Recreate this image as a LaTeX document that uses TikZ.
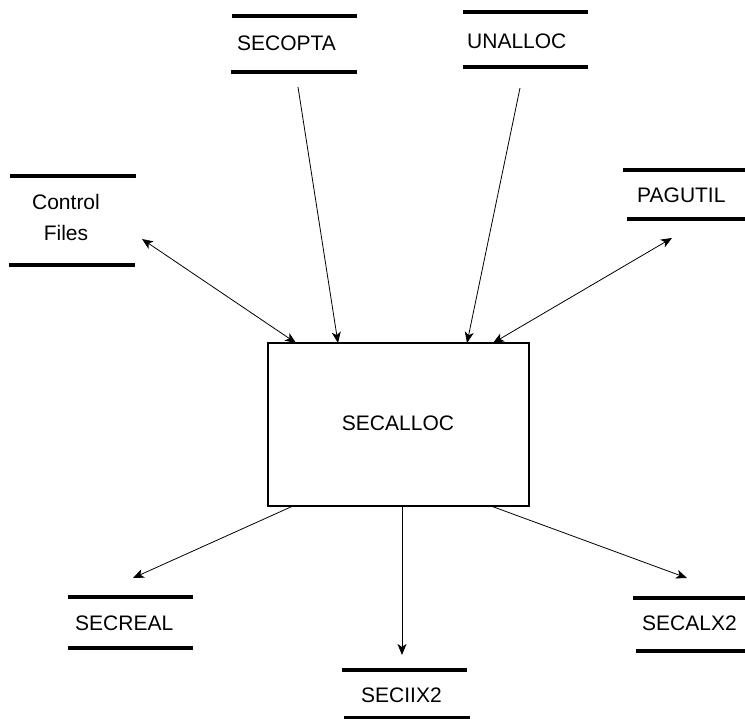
\documentclass[tikz,border=0pt]{standalone}
\usepackage{fontspec}
\setmainfont{Liberation Sans}
\usetikzlibrary{arrows.meta}
\begin{document}
\begin{tikzpicture}[x=1pt,y=-1pt,
  every node/.style={inner sep=0pt,font=\fontsize{21}{31}\selectfont},
  storeline/.style={line width=4pt},
  label/.style={anchor=west},
  process/.style={draw,line width=1.1pt},
  flow/.style={line width=0.8pt,-{Stealth[length=11pt,width=9pt,inset=3pt]}},
  dflow/.style={line width=0.8pt,{Stealth[length=11pt,width=9pt,inset=3pt]}-{Stealth[length=11pt,width=9pt,inset=3pt]}}]
\useasboundingbox (0,0) rectangle (745,719);

% central process
\draw[process] (268,343) rectangle (529,506);
\node (alloc) at (398,423) {SECALLOC};

% data stores: a label between two heavy rules
\node[label] (secopta) at (237,43) {SECOPTA};
\draw[storeline] (232,16) -- (357,16) (231,72) -- (357,72);

\node[label] (unalloc) at (467,41) {UNALLOC};
\draw[storeline] (463,12) -- (588,12) (463,67) -- (588,67);

\node[align=center] (ctrl) at (66,217) {Control\\Files};
\draw[storeline] (10,176) -- (136,176) (9,265) -- (135,265);

\node[label] (pagutil) at (637,195) {PAGUTIL};
\draw[storeline] (623,170) -- (745,170) (627,219) -- (745,219);

\node[label] (secreal) at (75,623) {SECREAL};
\draw[storeline] (68,597) -- (193,597) (68,648) -- (193,648);

\node[label] (seciix2) at (361,695) {SECIIX2};
\draw[storeline] (342,670) -- (467,670) (344,718) -- (470,718);

\node[label] (secalx2) at (642,623) {SECALX2};
\draw[storeline] (633,598) -- (745,598) (636,651) -- (745,651);

% connector end points
\coordinate (ctrlE) at (142,239);
\coordinate (boxA) at (296,343);
\coordinate (secoptaS) at (298,87);
\coordinate (boxB) at (338,343);
\coordinate (unallocS) at (520,88);
\coordinate (boxC) at (467,343);
\coordinate (pagutilS) at (672,238);
\coordinate (boxD) at (493,343);
\coordinate (boxE) at (293,506);
\coordinate (secrealN) at (133,578);
\coordinate (boxF) at (402,506);
\coordinate (seciix2N) at (402,655);
\coordinate (boxG) at (491,506);
\coordinate (secalx2N) at (687,578);

% data flows
\draw[dflow] (ctrlE) -- (boxA);
\draw[flow] (secoptaS) -- (boxB);
\draw[flow] (unallocS) -- (boxC);
\draw[dflow] (pagutilS) -- (boxD);
\draw[flow] (boxE) -- (secrealN);
\draw[flow] (boxF) -- (seciix2N);
\draw[flow] (boxG) -- (secalx2N);
\end{tikzpicture}
\end{document}
